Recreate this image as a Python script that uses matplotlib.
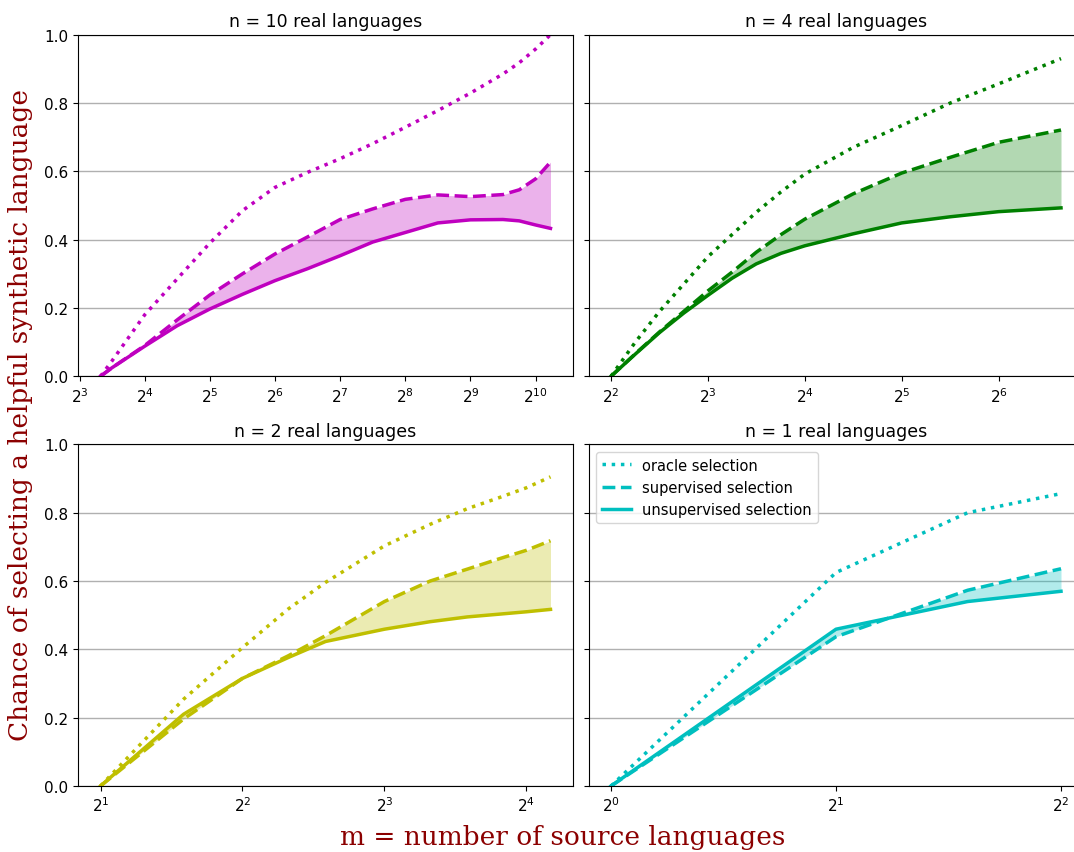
import matplotlib
matplotlib.use("Agg")
import matplotlib.pyplot as plt
import numpy as np
from matplotlib.ticker import LogLocator, LogFormatterSciNotation, NullLocator

# ---- data -------------------------------------------------------------
# n = 10 real languages
m10 = [10, 11.3, 16, 22.6, 32, 45.3, 64, 90.5, 128, 181, 256, 362, 512, 724, 861, 1024, 1200]
oracle10 = [0.0, 0.045, 0.18, 0.285, 0.39, 0.485, 0.553, 0.597, 0.637, 0.681, 0.729, 0.778, 0.829, 0.885, 0.918, 0.958, 1.0]
sup10 = [0.0, 0.025, 0.09, 0.165, 0.238, 0.30, 0.358, 0.408, 0.459, 0.49, 0.518, 0.531, 0.526, 0.532, 0.546, 0.578, 0.627]
unsup10 = [0.0, 0.025, 0.088, 0.148, 0.197, 0.24, 0.28, 0.315, 0.353, 0.393, 0.421, 0.449, 0.458, 0.459, 0.455, 0.443, 0.433]

# n = 4 real languages
m4 = [4, 4.76, 5.66, 6.73, 8, 9.51, 11.3, 13.5, 16, 22.6, 32, 45.3, 64, 100]
oracle4 = [0.0, 0.10, 0.19, 0.27, 0.35, 0.415, 0.48, 0.54, 0.592, 0.67, 0.734, 0.80, 0.856, 0.93]
sup4 = [0.0, 0.066, 0.13, 0.19, 0.25, 0.305, 0.363, 0.415, 0.46, 0.534, 0.595, 0.641, 0.685, 0.721]
unsup4 = [0.0, 0.065, 0.128, 0.185, 0.237, 0.287, 0.329, 0.36, 0.382, 0.417, 0.449, 0.467, 0.482, 0.493]

# n = 2 real languages
m2 = [2, 3, 4, 5, 6, 8, 10, 12, 14, 16, 18]
oracle2 = [0.0, 0.254, 0.405, 0.518, 0.596, 0.703, 0.766, 0.812, 0.844, 0.873, 0.905]
sup2 = [0.0, 0.196, 0.315, 0.381, 0.44, 0.54, 0.60, 0.635, 0.665, 0.69, 0.718]
unsup2 = [0.0, 0.21, 0.315, 0.376, 0.423, 0.459, 0.481, 0.495, 0.503, 0.51, 0.517]

# n = 1 real language
m1 = [1, 2, 3, 4]
oracle1 = [0.0, 0.625, 0.80, 0.856]
sup1 = [0.0, 0.437, 0.573, 0.636]
unsup1 = [0.0, 0.459, 0.54, 0.570]

panels = [
    ("n = 10 real languages", m10, oracle10, sup10, unsup10, "m"),
    ("n = 4 real languages", m4, oracle4, sup4, unsup4, "g"),
    ("n = 2 real languages", m2, oracle2, sup2, unsup2, "y"),
    ("n = 1 real languages", m1, oracle1, sup1, unsup1, "c"),
]

# ---- figure -----------------------------------------------------------
W, H = 1074, 853
fig = plt.figure(figsize=(W / 100, H / 100), dpi=100)

ax_w = 495 / W
ax_h = 341.6 / H
lefts = [78 / W, 588.5 / W]
bottoms = [(H - 377.3) / H, (H - 787) / H]

axes = []
for i, (title, m, orc, sup, uns, col) in enumerate(panels):
    r, c = divmod(i, 2)
    ax = fig.add_axes([lefts[c], bottoms[r], ax_w, ax_h])
    axes.append(ax)
    ax.set_xscale("log", base=2)
    ax.plot(m, orc, ":", color=col, lw=2.5, label="oracle selection")
    ax.plot(m, sup, "--", color=col, lw=2.5, label="supervised selection")
    ax.plot(m, uns, "-", color=col, lw=2.5, label="unsupervised selection")
    ax.fill_between(m, sup, uns, color=col, alpha=0.3, linewidth=0)
    ax.set_ylim(0, 1.0)
    ax.set_yticks(np.arange(0, 1.01, 0.2))
    ax.yaxis.grid(True, color="#b0b0b0", lw=1)
    ax.set_axisbelow(True)
    ax.xaxis.set_major_locator(LogLocator(base=2))
    ax.xaxis.set_major_formatter(LogFormatterSciNotation(base=2))
    ax.xaxis.set_minor_locator(NullLocator())
    ax.tick_params(labelsize=11)
    ax.set_title(title, fontsize=12.5)
    if c == 1:
        ax.tick_params(labelleft=False)

axes[3].legend(loc="upper left", fontsize=10.5)

fig.text(563 / W, 1 - 838 / H, "m = number of source languages", family="DejaVu Serif",
         color="darkred", fontsize=19, ha="center", va="center")
fig.text(21 / W, 1 - 415 / H, "Chance of selecting a helpful synthetic language", family="DejaVu Serif",
         color="darkred", fontsize=19, ha="center", va="center", rotation=90)

fig.savefig("out.png", dpi=100)
